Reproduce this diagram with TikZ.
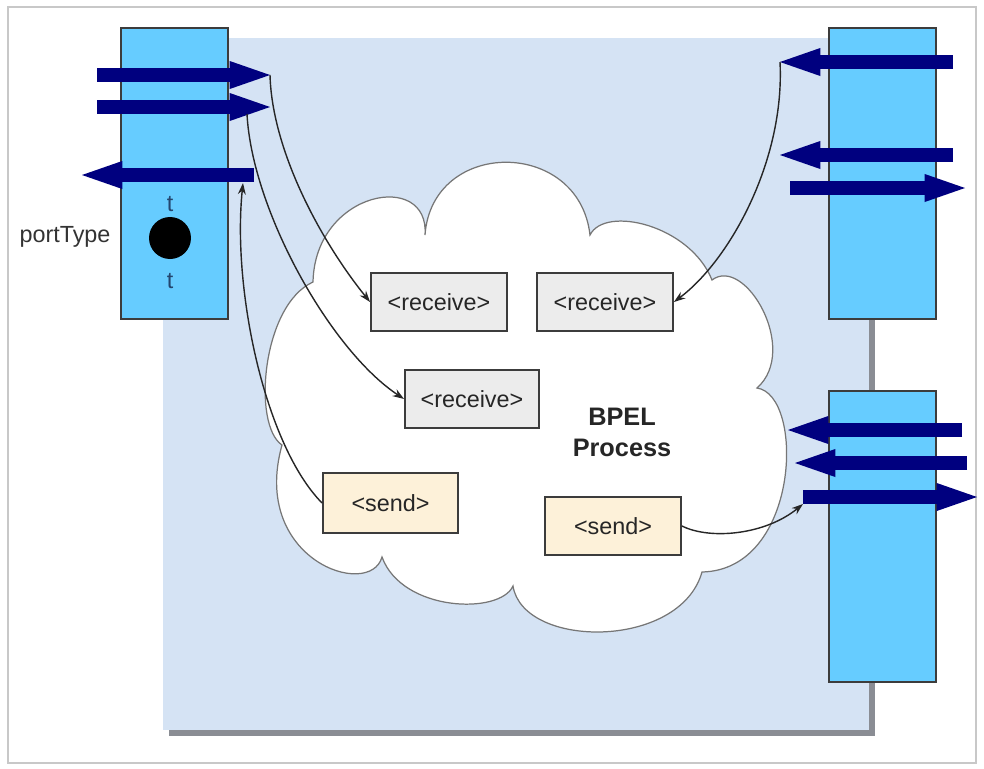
\documentclass[tikz,border=0pt]{standalone}
\usepackage{fontspec}
\setmainfont{Liberation Sans}
\usepackage{tikz}
\usetikzlibrary{
  arrows.meta,
  positioning,
  calc
}
\definecolor{PortBlue}{HTML}{66CCFF}
\definecolor{BgBlue}{HTML}{D5E3F4}
\definecolor{OpNavy}{HTML}{00007F}
\definecolor{RecvGray}{HTML}{ECECEC}
\definecolor{SendCream}{HTML}{FDF1D9}
\definecolor{EdgeGray}{HTML}{3C3C3C}
\definecolor{CloudLine}{HTML}{767676}
\definecolor{FrameGray}{HTML}{C8C8C8}
\definecolor{ShadowGray}{HTML}{8A8D94}
\definecolor{TBlue}{HTML}{23466F}
\tikzset{
  % Port type column
  port/.style={
    rectangle, draw=EdgeGray, fill=PortBlue, line width=0.9pt,
    minimum width=2.14cm, minimum height=5.82cm, inner sep=0pt
  },
  % Activity box inside the process
  act/.style={
    rectangle, draw=EdgeGray, fill=#1, line width=1.1pt,
    minimum width=2.72cm, minimum height=1.16cm,
    font=\fontsize{13.3}{16}\selectfont, text=black!85
  },
  % Operation block arrow
  op/.style={
    line width=8.5pt, color=OpNavy,
    -{Triangle[length=23pt, width=16pt, line width=0pt]}
  },
  % Thin connector
  arr/.style={
    -{Stealth[length=6.5pt,width=4.5pt]},
    line width=0.8pt, color=black!85
  },
  % Plain label
  lbl/.style={font=\fontsize{13.3}{16}\selectfont, color=#1, inner sep=0pt}
}
\begin{document}
\begin{tikzpicture}[x=0.02cm, y=-0.02cm]
  \useasboundingbox (0,0) rectangle (984,768);
  \draw[FrameGray, line width=1.2pt] (8,7) rectangle (976,763);

  % process area with its shadow
  \fill[ShadowGray] (169,44) rectangle (875,736);
  \fill[BgBlue] (163,38) rectangle (869,730);

  % cloud
  \draw[CloudLine, fill=white, line width=0.7pt]
    (313,282) .. controls (315,190) and (430,170) .. (425,235)
    .. controls (432,138) and (579,138) .. (590,235)
    .. controls (605,205) and (690,225) .. (712,280)
    .. controls (745,255) and (800,350) .. (757,388)
    .. controls (805,395) and (800,570) .. (702,572)
    .. controls (680,650) and (523,649) .. (513,586)
    .. controls (500,615) and (402,612) .. (382,557)
    .. controls (370,600) and (250,560) .. (282,445)
    .. controls (252,425) and (262,305) .. (313,282) -- cycle;

  % port types
  \node[port] (portL)  at (174.5,173.5) {};
  \node[port] (portRT) at (882.5,173.5) {};
  \node[port] (portRB) at (882.5,536.5) {};

  \node[lbl=TBlue] (t1) at (170,204) {t};
  \node[circle, fill=black, minimum size=0.84cm, inner sep=0pt] (dot) at (170,238) {};
  \node[lbl=TBlue] (t2) at (170,281) {t};
  \node[lbl=black!80] (ptype) at (65,237) {portType};

  % operations
  \coordinate (la1t) at (97,75);   \coordinate (la1) at (270,75);
  \coordinate (la2t) at (97,107);  \coordinate (la2) at (270,107);
  \coordinate (la3t) at (254,175); \coordinate (la3) at (82,175);
  \coordinate (ra1t) at (953,62);  \coordinate (ra1) at (780,62);
  \coordinate (ra2t) at (953,155); \coordinate (ra2) at (780,155);
  \coordinate (ra3t) at (790,188); \coordinate (ra3) at (965,188);
  \coordinate (rb1t) at (962,430); \coordinate (rb1) at (788,430);
  \coordinate (rb2t) at (967,463); \coordinate (rb2) at (795,463);
  \coordinate (rb3t) at (803,497); \coordinate (rb3) at (977,497);
  \foreach \a in {la1,la2,la3,ra1,ra2,ra3,rb1,rb2,rb3}
    \draw[op] (\a t) -- (\a);

  \coordinate (la2foot) at (247,114);
  \coordinate (la3foot) at (243,183);
  \coordinate (rb3foot) at (803,504);

  % activities
  \node[act=RecvGray]  (recv1) at (439,302) {<receive>};
  \node[act=RecvGray]  (recv2) at (605,302) {<receive>};
  \node[act=RecvGray, minimum width=2.68cm] (recv3) at (472,399) {<receive>};
  \node[act=SendCream, minimum width=2.7cm, minimum height=1.2cm] (send1) at (390.5,503) {<send>};
  \node[act=SendCream] (send2) at (613,526) {<send>};

  \node[align=center, font=\fontsize{14.4}{17.6}\selectfont\bfseries, text=black!85] (bpel) at (622,432) {BPEL\\Process};

  % message flow
  \draw[arr] (la1) .. controls (272,150) and (320,240) .. (recv1.west);
  \draw[arr] (la2foot) .. controls (252,210) and (330,350) .. (recv3.west);
  \draw[arr] (send1.west) .. controls (265,445) and (232,290) .. (la3foot);
  \draw[arr] (ra1) .. controls (785,160) and (730,260) .. (recv2.east);
  \draw[arr] (send2.east) .. controls (710,540) and (765,535) .. (rb3foot);
\end{tikzpicture}
\end{document}
